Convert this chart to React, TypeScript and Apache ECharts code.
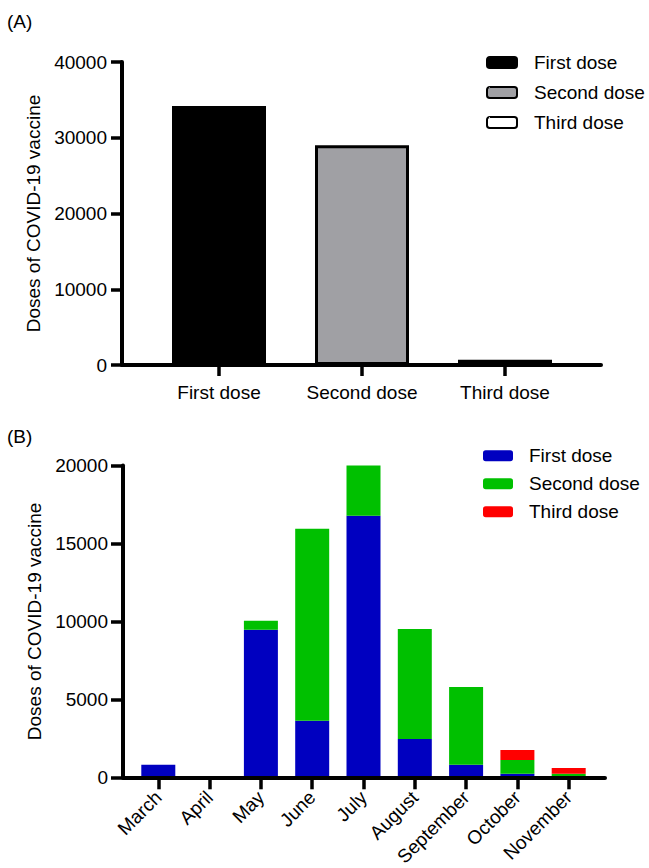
import React, { useEffect, useRef } from 'react';
import * as echarts from 'echarts';

// Panel A: total doses
const doseNames = ['First dose', 'Second dose', 'Third dose'];
const doseTotals = [34200, 29000, 700];
const doseColorsA = ['#000000', '#A0A0A4', '#FFFFFF'];

// Panel B: doses by month
const months = ['March', 'April', 'May', 'June', 'July', 'August', 'September', 'October', 'November'];
const firstDoseByMonth = [800, 0, 9460, 3620, 16780, 2460, 800, 230, 20];
const secondDoseByMonth = [0, 0, 580, 12330, 3220, 7060, 5000, 880, 210];
const thirdDoseByMonth = [0, 0, 0, 0, 0, 0, 0, 640, 370];
const doseColorsB = ['#0000C0', '#00C000', '#FF0000'];

const FONT = 'Liberation Sans, Arial, sans-serif';
const FS = 19;

export default function App() {
  const ref = useRef<HTMLDivElement>(null);
  useEffect(() => {
    if (!ref.current) return;
    const chart = echarts.init(ref.current, undefined, { renderer: 'svg' });
    const axisLine = { show: true, onZero: false, lineStyle: { color: '#000', width: 4 } };
    const tickStyle = { color: '#000', width: 3.5 };
    const labelStyle = { color: '#000', fontSize: FS, fontFamily: FONT };
    const byMonth = [firstDoseByMonth, secondDoseByMonth, thirdDoseByMonth];
    const frameX = (gridIndex: number) => ({
      type: 'value', gridIndex, min: 0, max: 1, z: 10,
      axisLine, splitLine: { show: false }, axisTick: { show: false }, axisLabel: { show: false },
    });
    const hiddenY = (gridIndex: number, max: number) => ({
      type: 'value', gridIndex, min: 0, max, show: false, splitLine: { show: false },
    });
    const g = (left: number, right: number, top: number, bottom: number) => ({
      left, right, top, bottom, containLabel: false, outerBoundsMode: 'none',
    });
    const option: any = {
      animation: false,
      backgroundColor: '#fff',
      textStyle: { fontFamily: FONT },
      title: [
        { text: '(A)', left: 7, top: 12, padding: 0, textStyle: { fontSize: FS, fontWeight: 'normal', color: '#000', fontFamily: FONT } },
        { text: '(B)', left: 7, top: 427, padding: 0, textStyle: { fontSize: FS, fontWeight: 'normal', color: '#000', fontFamily: FONT } },
      ],
      grid: [
        g(122, 48, 62, 503),
        g(147.5, 72.5, 62, 503),
        g(123, 44, 465.5, 90.7),
        g(132.65, 54.65, 465.5, 90.7),
      ],
      legend: [
        {
          data: doseNames,
          left: 486, top: 52.5, orient: 'vertical', padding: 0,
          itemWidth: 30, itemHeight: 11, itemGap: 10,
          itemStyle: { borderWidth: 2, borderColor: '#000' },
          textStyle: { color: '#000', fontSize: FS, fontFamily: FONT, lineHeight: 20, padding: [0, 0, 0, 12] },
        },
        {
          data: doseNames.map((n) => 'B:' + n),
          formatter: (n: string) => n.replace(/^B:/, ''),
          left: 483, top: 445.7, orient: 'vertical', padding: 0,
          itemWidth: 30, itemHeight: 11, itemGap: 8,
          textStyle: { color: '#000', fontSize: FS, fontFamily: FONT, lineHeight: 20, padding: [0, 0, 0, 11] },
        },
      ],
      xAxis: [
        frameX(0),
        {
          type: 'category', gridIndex: 1, data: doseNames, z: 11,
          axisLine: { show: false },
          axisTick: { show: true, alignWithLabel: true, length: 11, lineStyle: tickStyle },
          axisLabel: { ...labelStyle, margin: 18, interval: 0 },
        },
        frameX(2),
        {
          type: 'category', gridIndex: 3, data: months, z: 11,
          axisLine: { show: false },
          axisTick: { show: true, alignWithLabel: true, length: 12, lineStyle: tickStyle },
          axisLabel: { ...labelStyle, margin: 17, rotate: 45, interval: 0 },
        },
      ],
      yAxis: [
        {
          type: 'value', gridIndex: 0, min: 0, max: 40000, interval: 10000, z: 10,
          axisLine, splitLine: { show: false },
          axisTick: { show: true, length: 11, lineStyle: tickStyle },
          axisLabel: { ...labelStyle, margin: 15, formatter: (v: number) => String(v) },
          name: 'Doses of COVID-19 vaccine', nameLocation: 'middle', nameGap: 78,
          nameTextStyle: { ...labelStyle },
        },
        hiddenY(1, 40000),
        {
          type: 'value', gridIndex: 2, min: 0, max: 20000, interval: 5000, z: 10,
          axisLine, splitLine: { show: false },
          axisTick: { show: true, length: 12, lineStyle: tickStyle },
          axisLabel: { ...labelStyle, margin: 15, formatter: (v: number) => String(v) },
          name: 'Doses of COVID-19 vaccine', nameLocation: 'middle', nameGap: 76,
          nameTextStyle: { ...labelStyle },
        },
        hiddenY(3, 20000),
      ],
      series: [
        ...doseNames.map((n, i) => ({
          type: 'bar', name: n, xAxisIndex: 1, yAxisIndex: 1,
          barWidth: 94, barGap: '-100%',
          data: doseTotals.map((v, j) => (j === i ? v : null)),
          itemStyle: { color: doseColorsA[i], borderColor: '#000', borderWidth: 3 },
        })),
        ...doseNames.map((n, i) => ({
          type: 'bar', name: 'B:' + n, xAxisIndex: 3, yAxisIndex: 3,
          stack: 'month', barWidth: 34,
          data: byMonth[i],
          itemStyle: { color: doseColorsB[i] },
        })),
      ],
    };
    chart.setOption(option);
    return () => chart.dispose();
  }, []);
  return <div ref={ref} style={{ position: 'absolute', left: 0, top: 0, width: 649, height: 868 }} />;
}
